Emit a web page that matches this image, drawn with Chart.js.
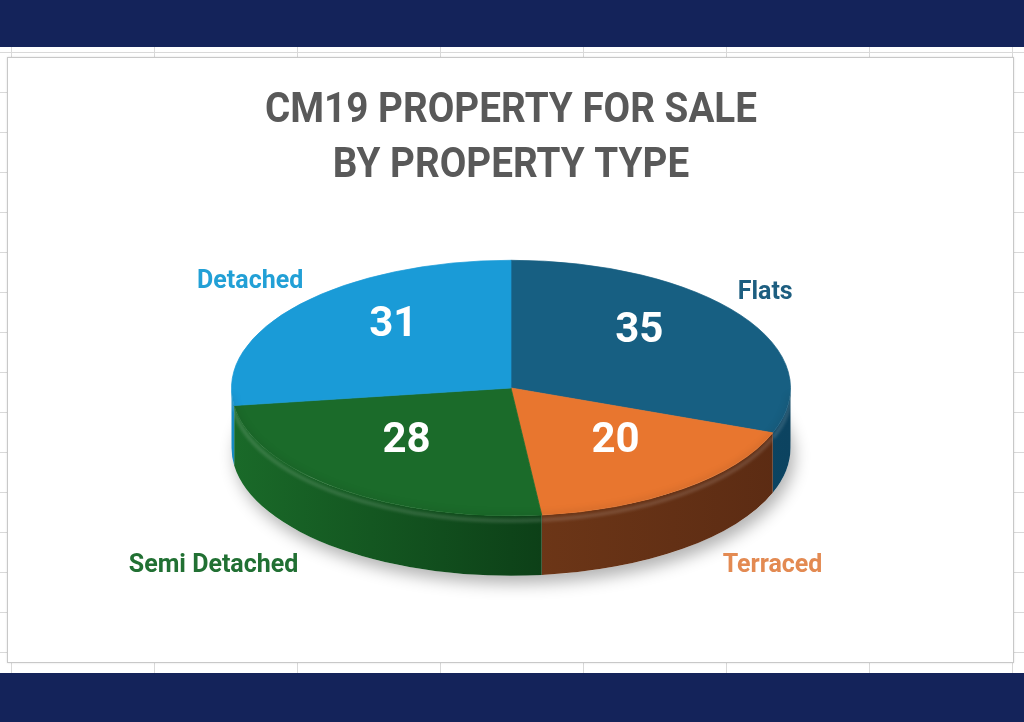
<!DOCTYPE html>
<html><head><meta charset="utf-8">
<script src="https://cdn.jsdelivr.net/npm/chart.js@4/dist/chart.umd.min.js"></script>
<style>
html,body{margin:0;padding:0;width:1024px;height:722px;overflow:hidden;background:#fff;}
#bg{position:absolute;left:0;top:0;width:1024px;height:722px;
 background-image:linear-gradient(to right,#d9d9d9 1px,transparent 1px),linear-gradient(to bottom,#d9d9d9 1px,transparent 1px);
 background-size:143px 40px;background-position:11px 12px;}
.band{position:absolute;left:0;width:1024px;background:#14235a;}
#topband{top:0;height:47px;}
#botband{top:673px;height:49px;}
#box{position:absolute;left:7px;top:57px;width:1005px;height:604px;background:#fff;border:1px solid #c8c8c8;box-shadow:0 0 2px rgba(0,0,0,.12);}
#wrap{position:absolute;left:0;top:0;width:1024px;height:722px;}
</style>
</head><body>
<div id="bg"></div>
<div class="band" id="topband"></div>
<div class="band" id="botband"></div>
<div id="box"></div>
<div id="wrap"><canvas id="c" width="1024" height="722"></canvas></div>
<script>
// ---- data ----
const categories = ['Flats', 'Terraced', 'Semi Detached', 'Detached'];
const counts = [35, 20, 28, 31];
const titleLines = ['CM19 PROPERTY FOR SALE', 'BY PROPERTY TYPE'];

// ---- styles ----
const topColors   = ['#175f82', '#e8762f', '#1b6b2a', '#1a9bd7'];
const sideLight   = ['#145778', '#81431c', '#1a6a29', '#178bc2'];
const sideDark    = ['#0c4360', '#5b2b13', '#021e09', '#0d5f88'];
const labelColors = ['#1d5e80', '#e38a52', '#217033', '#22a0d6'];
const TILT = 0.457;
const DEPTH = 60;
const FONT = 'Roboto, "Open Sans", "DejaVu Sans", sans-serif';

function ellipseGeom(chart) {
  const meta = chart.getDatasetMeta(0);
  const a0 = meta.data[0];
  return { meta, cx: a0.x, cy: a0.y, r: a0.outerRadius, ry: a0.outerRadius * TILT };
}

const pie3d = {
  id: 'pie3d',
  beforeDatasetsDraw(chart) {
    const ctx = chart.ctx;
    const { meta, cx, cy, r, ry } = ellipseGeom(chart);
    // soft shadow under the pie
    ctx.save();
    ctx.shadowColor = 'rgba(0,0,0,0.30)';
    ctx.shadowBlur = 16;
    ctx.shadowOffsetX = 4;
    ctx.shadowOffsetY = 8;
    ctx.fillStyle = '#ffffff';
    ctx.beginPath();
    ctx.ellipse(cx, cy + DEPTH, r, ry, 0, 0, Math.PI * 2);
    ctx.fill();
    ctx.restore();
    // side walls (front half only)
    meta.data.forEach((arc, i) => {
      const a = Math.max(arc.startAngle, 0);
      const b = Math.min(arc.endAngle, Math.PI);
      if (b <= a) return;
      ctx.save();
      ctx.beginPath();
      ctx.ellipse(cx, cy, r, ry, 0, a, b, false);
      ctx.ellipse(cx, cy + DEPTH, r, ry, 0, b, a, true);
      ctx.closePath();
      const g = ctx.createLinearGradient(cx - r, 0, cx + r, 0);
      g.addColorStop(0, sideLight[i]);
      g.addColorStop(1, sideDark[i]);
      ctx.fillStyle = g;
      ctx.fill();
      ctx.clip();
      // bevel highlight just below rim
      ctx.filter = 'blur(1.5px)';
      ctx.strokeStyle = 'rgba(255,255,255,0.14)';
      ctx.lineWidth = 4;
      ctx.beginPath();
      ctx.ellipse(cx, cy + 5, r, ry, 0, a, b, false);
      ctx.stroke();
      ctx.filter = 'none';
      ctx.restore();
    });
    // squash the pie for the top face
    ctx.save();
    ctx.translate(0, cy);
    ctx.scale(1, TILT);
    ctx.translate(0, -cy);
  },
  afterDatasetsDraw(chart) {
    const ctx = chart.ctx;
    ctx.restore();
    const { meta, cx, cy, r, ry } = ellipseGeom(chart);
    // subtle inner shading near front rim of top face
    ctx.save();
    ctx.beginPath();
    ctx.ellipse(cx, cy, r, ry, 0, 0, Math.PI * 2);
    ctx.clip();
    ctx.filter = 'blur(3px)';
    ctx.strokeStyle = 'rgba(0,0,0,0.08)';
    ctx.lineWidth = 5;
    ctx.beginPath();
    ctx.ellipse(cx, cy, r, ry, 0, 0.05, Math.PI - 0.05, false);
    ctx.stroke();
    ctx.filter = 'none';
    ctx.restore();

    meta.data.forEach((arc, i) => {
      const mid = (arc.startAngle + arc.endAngle) / 2;
      const c = Math.cos(mid), s = Math.sin(mid);
      // value labels
      ctx.save();
      ctx.font = 'bold 42px ' + FONT;
      ctx.fillStyle = '#ffffff';
      ctx.textAlign = 'center';
      ctx.textBaseline = 'middle';
      const vx = cx + 0.58 * r * c + (s > 0 ? 8 * c : -6 * c);
      const vy = cy + 0.58 * ry * s - 14 + 12 * Math.max(s, 0);
      ctx.fillText(String(counts[i]), vx, vy);
      ctx.restore();
      // category labels
      const rx0 = cx + r * c, ry0 = cy + ry * s;
      ctx.save();
      ctx.font = 'bold 25px ' + FONT;
      ctx.fillStyle = labelColors[i];
      ctx.textBaseline = 'middle';
      ctx.textAlign = c >= 0 ? 'left' : 'right';
      let lx, ly;
      if (s < 0) { lx = rx0 + (c >= 0 ? -3 : 3); ly = ry0 - 22; }
      else { lx = rx0 + (c >= 0 ? 40 : -41); ly = ry0 + DEPTH + 17; }
      ctx.fillText(categories[i], lx, ly);
      ctx.restore();
    });
  },
  afterDraw(chart) {
    const ctx = chart.ctx;
    ctx.save();
    ctx.font = 'bold 42px ' + FONT;
    ctx.fillStyle = '#595959';
    ctx.textAlign = 'center';
    ctx.textBaseline = 'alphabetic';
    const w = ctx.measureText(titleLines[0]).width;
    const sx = 492 / w;
    const baselines = [122, 177];
    titleLines.forEach((t, k) => {
      ctx.save();
      ctx.translate(511, baselines[k]);
      ctx.scale(sx, 1);
      ctx.fillText(t, 0, 0);
      ctx.restore();
    });
    ctx.restore();
  }
};

new Chart(document.getElementById('c'), {
  type: 'pie',
  data: {
    labels: categories,
    datasets: [{
      data: counts,
      backgroundColor: topColors,
      borderColor: topColors,
      borderWidth: 1,
      clip: false
    }]
  },
  options: {
    responsive: false,
    animation: false,
    events: [],
    rotation: 0,
    layout: { padding: { left: 231, right: 233, top: 108, bottom: 54 } },
    plugins: {
      legend: { display: false },
      title: { display: false },
      tooltip: { enabled: false }
    }
  },
  plugins: [pie3d]
});
</script>
</body></html>
